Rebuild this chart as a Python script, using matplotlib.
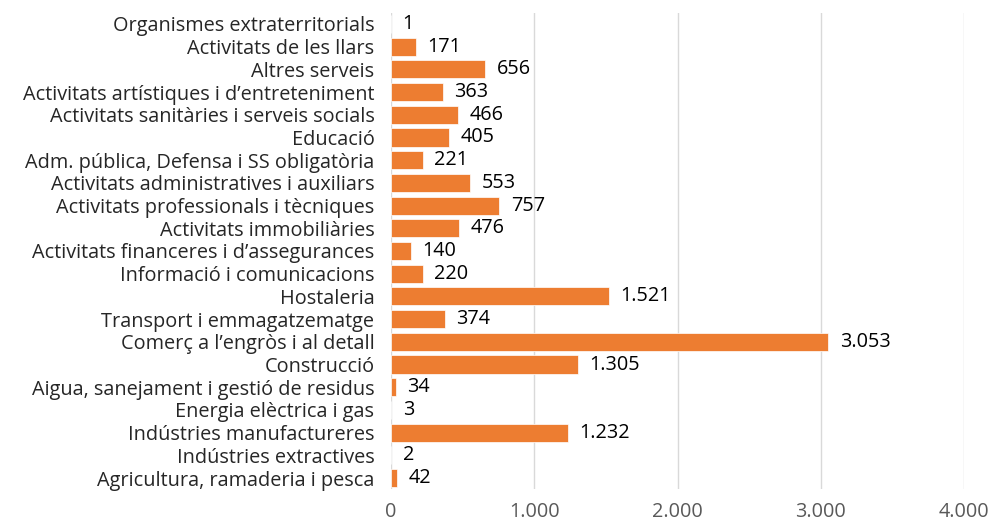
import matplotlib
matplotlib.use("Agg")
import matplotlib.pyplot as plt

categories = [
    "Organismes extraterritorials",
    "Activitats de les llars",
    "Altres serveis",
    "Activitats artístiques i d’entreteniment",
    "Activitats sanitàries i serveis socials",
    "Educació",
    "Adm. pública, Defensa i SS obligatòria",
    "Activitats administratives i auxiliars",
    "Activitats professionals i tècniques",
    "Activitats immobiliàries",
    "Activitats financeres i d’assegurances",
    "Informació i comunicacions",
    "Hostaleria",
    "Transport i emmagatzematge",
    "Comerç a l’engròs i al detall",
    "Construcció",
    "Aigua, sanejament i gestió de residus",
    "Energia elèctrica i gas",
    "Indústries manufactureres",
    "Indústries extractives",
    "Agricultura, ramaderia i pesca",
]
values = [1, 171, 656, 363, 466, 405, 221, 553, 757, 476, 140, 220, 1521, 374,
          3053, 1305, 34, 3, 1232, 2, 42]
xticks = [0, 1000, 2000, 3000, 4000]
xtick_labels = ["0", "1.000", "2.000", "3.000", "4.000"]

def fmt(v):
    return f"{v:,}".replace(",", ".")

plt.rcParams['font.family'] = ['Open Sans', 'DejaVu Sans']
FS = 14.3

fig = plt.figure(figsize=(9.9, 5.21), dpi=100)
ax = fig.add_axes([0.395, 0.0607, 0.9737 - 0.395, 0.9758 - 0.0607])

n = len(categories)
ypos = list(range(n - 1, -1, -1))
ax.barh(ypos, values, height=0.8, color="#ED7D31", edgecolor="white", linewidth=0.5, zorder=3)
for y, v in zip(ypos, values):
    ax.text(v + 80, y, fmt(v), va="center", ha="left", fontsize=FS, color="black")

ax.set_xlim(0, 4000)
ax.set_ylim(-0.5, n - 0.5)
ax.set_yticks(ypos)
ax.set_yticklabels(categories, fontsize=FS, color="#262626")
ax.set_xticks(xticks)
ax.set_xticklabels(xtick_labels, fontsize=FS, color="#595959")
ax.tick_params(axis="both", length=0)
ax.tick_params(axis="y", pad=12)
ax.tick_params(axis="x", pad=9)
ax.grid(axis="x", color="#D9D9D9", linewidth=1, zorder=0)
for s in ax.spines.values():
    s.set_visible(False)

fig.savefig("out.png", dpi=100)
